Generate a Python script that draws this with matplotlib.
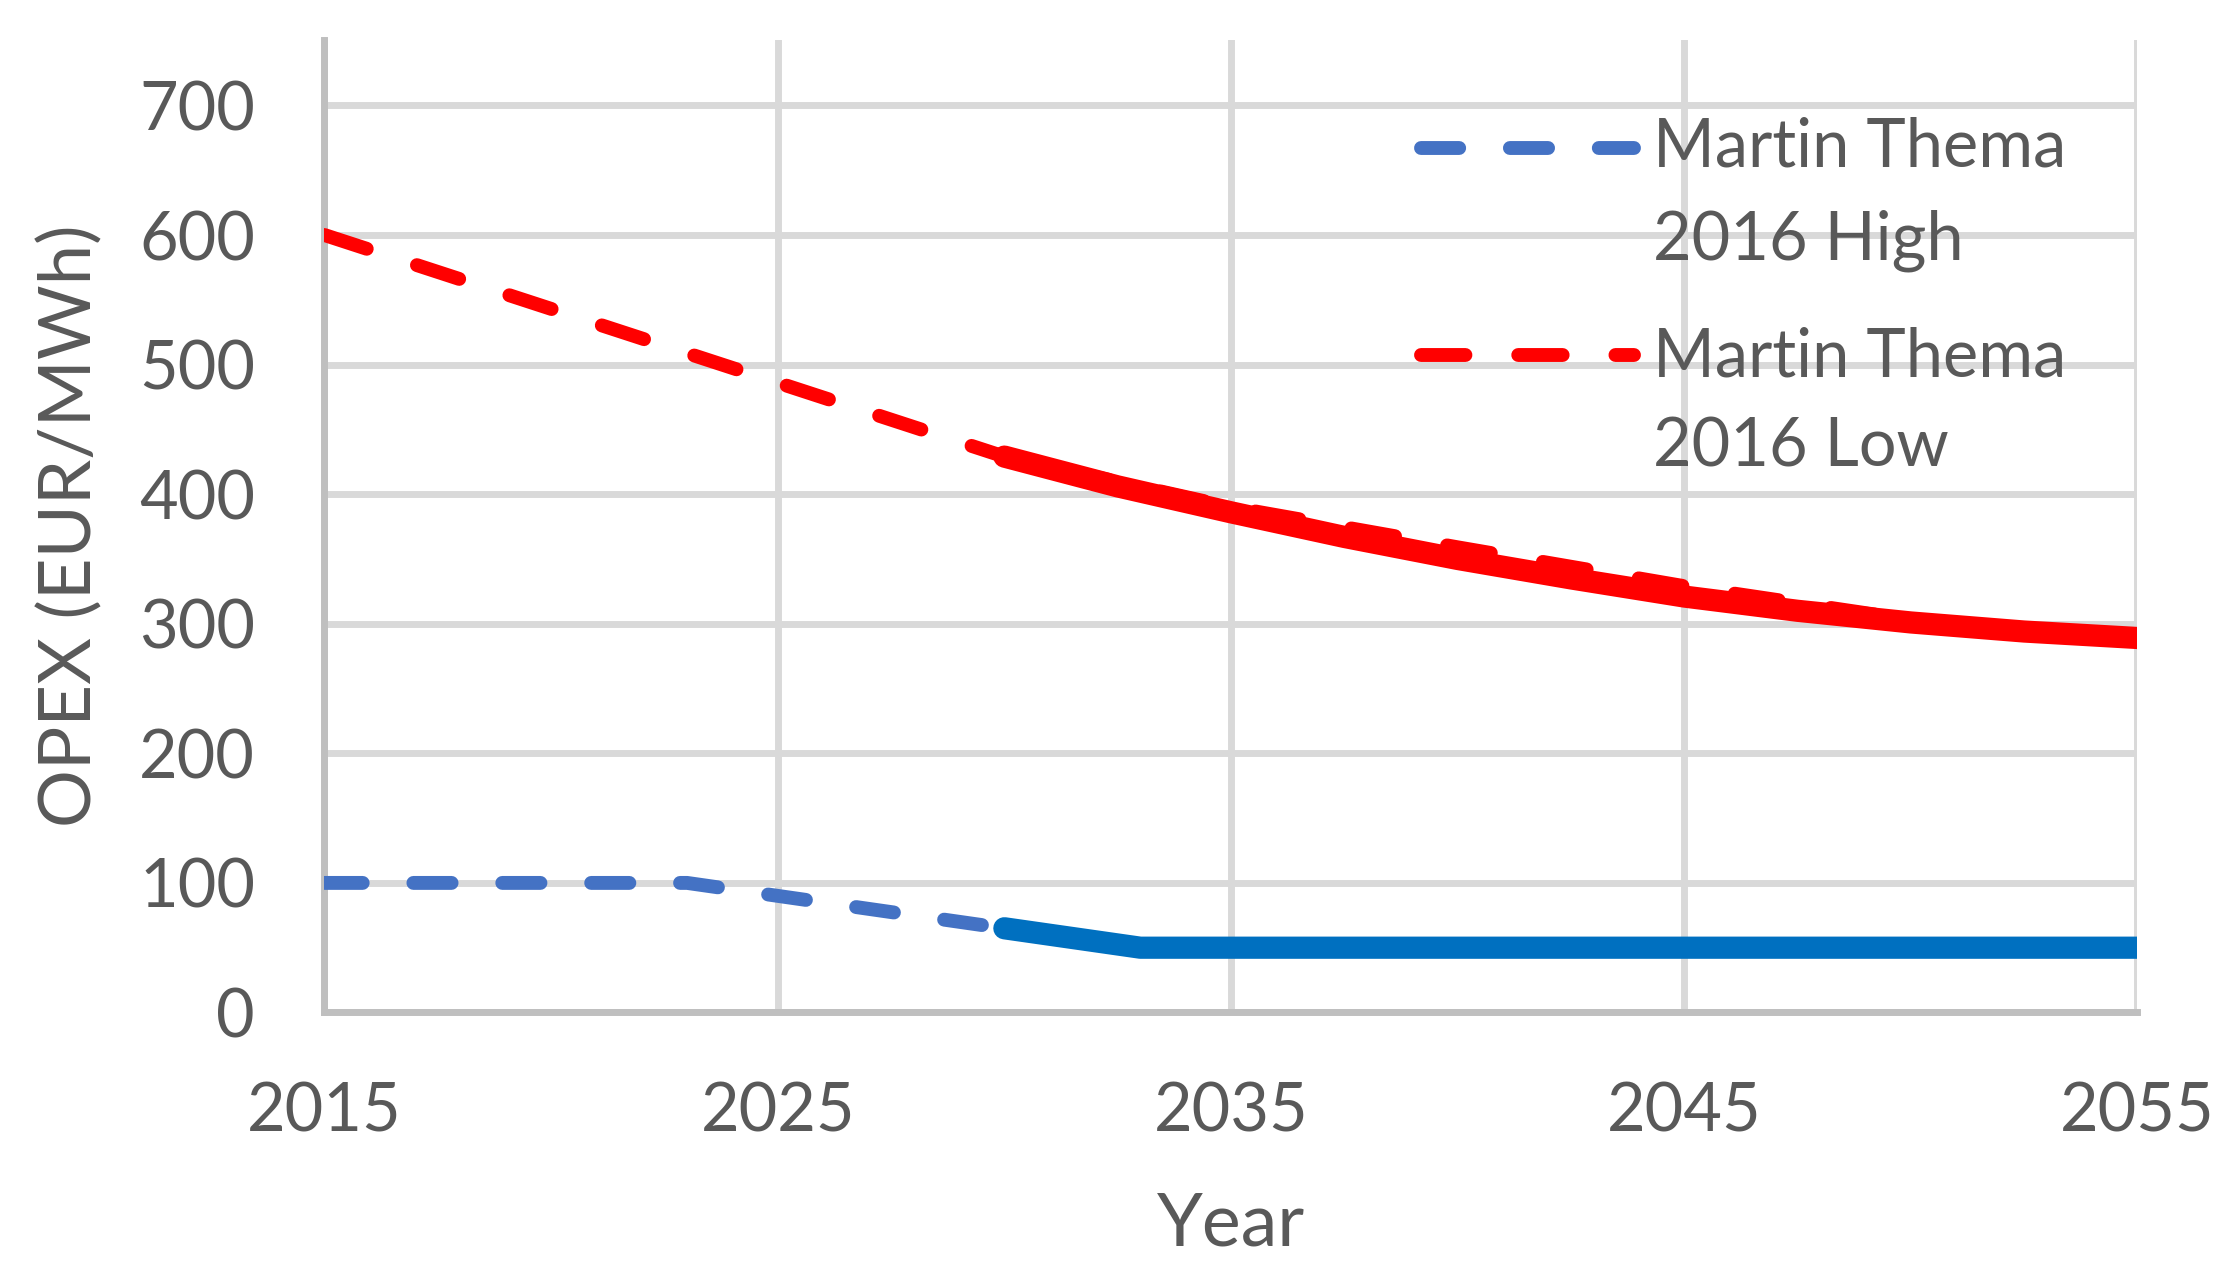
import matplotlib
matplotlib.use("Agg")
import matplotlib.pyplot as plt

plt.rcParams['font.family'] = ['Lato', 'DejaVu Sans']

# ---- data ----
x_ticks = [2015, 2025, 2035, 2045, 2055]
y_ticks = [0, 100, 200, 300, 400, 500, 600, 700]

high_dash_years = [2015, 2020, 2023, 2025, 2030]
high_dash_vals = [100, 100, 100, 90, 65]
high_solid_years = [2030, 2033, 2035, 2040, 2045, 2050, 2055]
high_solid_vals = [65, 50, 50, 50, 50, 50, 50]

low_dash_years = [2015, 2020, 2025, 2030, 2035, 2040, 2045, 2050, 2055]
low_dash_vals = [600, 543, 486, 429, 390, 359, 329, 303, 289]
low_solid_years = [2030, 2032.5, 2035, 2037.5, 2040, 2042.5, 2045, 2047.5, 2050, 2052.5, 2055]
low_solid_vals = [429, 406, 386, 367, 350, 335, 321, 310, 301, 294, 289]

legend_labels = [["Martin Thema", "2016 High"], ["Martin Thema", "2016 Low"]]

# ---- styling ----
TXT = '#595959'
BLUE_D = '#4472C4'
BLUE_S = '#0070C0'
RED = '#FF0000'
GRID = '#D9D9D9'
SPINE = '#BFBFBF'

fig = plt.figure(figsize=(22.37, 12.70), dpi=100)
ax = fig.add_axes([0.14506, 0.20276, 0.81046, 0.76575])

ax.set_xlim(2015, 2055)
ax.set_ylim(0, 750.5)
ax.set_xticks(x_ticks)
ax.set_yticks(y_ticks)
ax.set_axisbelow(True)
ax.grid(True, color=GRID, lw=5)

for s in ['top', 'right']:
    ax.spines[s].set_visible(False)
for s in ['left', 'bottom']:
    ax.spines[s].set_color(SPINE)
    ax.spines[s].set_linewidth(5)

ax.tick_params(length=0, pad=50, labelsize=48, labelcolor=TXT)

lw_d = 10
lw_s = 16
blue_dashes = (2.75, 3.65)
red_dashes = (3.2, 3.8)

ax.plot(low_dash_years, low_dash_vals, color=RED, lw=lw_d, dashes=red_dashes,
        dash_capstyle='round', dash_joinstyle='round', zorder=3)
ax.plot(high_dash_years, high_dash_vals, color=BLUE_D, lw=lw_d, dashes=blue_dashes,
        dash_capstyle='round', dash_joinstyle='round', zorder=3)
ax.plot(low_solid_years, low_solid_vals, color=RED, lw=lw_s,
        solid_capstyle='round', solid_joinstyle='round', zorder=4)
ax.plot(high_solid_years, high_solid_vals, color=BLUE_S, lw=lw_s,
        solid_capstyle='round', solid_joinstyle='round', zorder=4)

ax.set_ylabel('OPEX (EUR/MWh)', fontsize=52, color=TXT, va='center')
ax.yaxis.set_label_coords(-0.1404, 0.5)
ax.set_xlabel('Year', fontsize=53, color=TXT, va='baseline')
ax.xaxis.set_label_coords(0.5, -0.2391)

# ---- manual legend (handle aligned with first text line, as in the reference) ----
leg_x0, leg_x1, txt_x = 0.605, 0.7225, 0.7325
entries = [
    (BLUE_D, blue_dashes, 0.8893, 0.8698, 0.7746),
    (RED, red_dashes, 0.6758, 0.6538, 0.5612),
]
for (col, dsh, yh, y1, y2), labs in zip(entries, legend_labels):
    ax.plot([leg_x0, leg_x1], [yh, yh], transform=ax.transAxes, color=col, lw=lw_d,
            dashes=dsh, dash_capstyle='round', zorder=5, clip_on=False)
    ax.text(txt_x, y1, labs[0], transform=ax.transAxes, fontsize=48, color=TXT,
            ha='left', va='baseline', zorder=6)
    ax.text(txt_x, y2, labs[1], transform=ax.transAxes, fontsize=48, color=TXT,
            ha='left', va='baseline', zorder=6)

fig.savefig('out.png', dpi=100, facecolor='white')
